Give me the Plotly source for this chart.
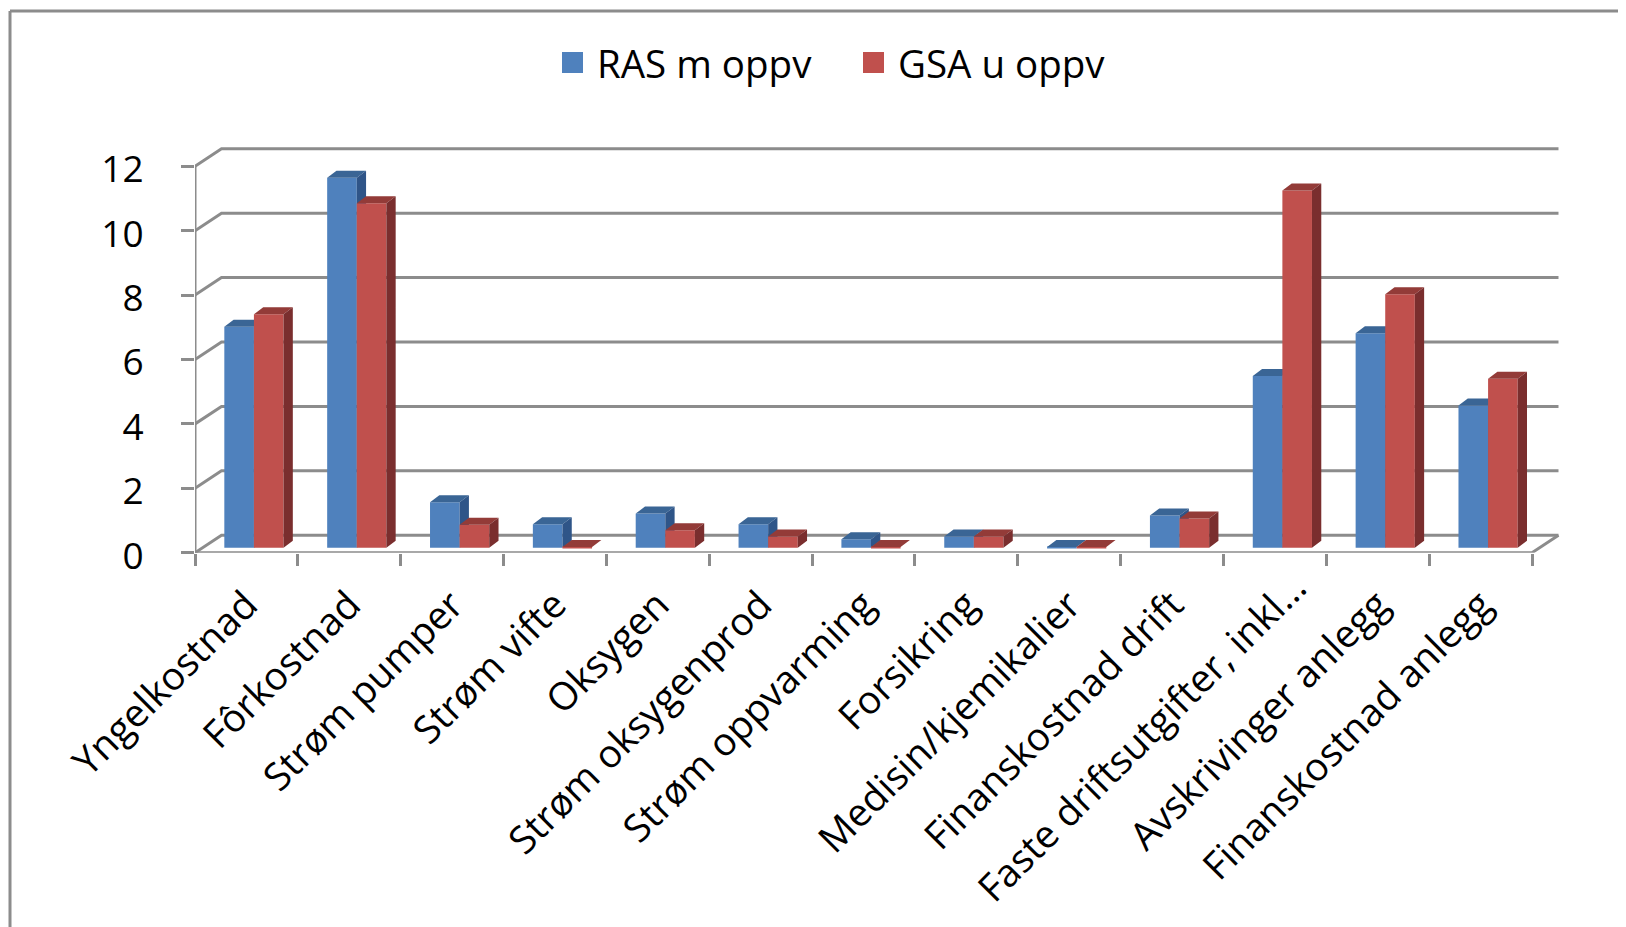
import plotly.graph_objects as go

categories = ["Yngelkostnad", "Fôrkostnad", "Strøm pumper", "Strøm vifte", "Oksygen",
              "Strøm oksygenprod", "Strøm oppvarming", "Forsikring", "Medisin/kjemikalier",
              "Finanskostnad drift", "Faste driftsutgifter, inkl…", "Avskrivinger anlegg",
              "Finanskostnad anlegg"]
ras_values = [6.86, 11.49, 1.41, 0.73, 1.06, 0.73, 0.26, 0.35, 0.02, 1.0, 5.33, 6.66, 4.42]
gsa_values = [7.25, 10.70, 0.71, 0.02, 0.54, 0.35, 0.02, 0.35, 0.02, 0.91, 11.09, 7.87, 5.25]
y_ticks = [0, 2, 4, 6, 8, 10, 12]
series_names = ["RAS m oppv", "GSA u oppv"]

PAGE = 8                                     # browser body margin
W, H = 1626 - PAGE, 927 - PAGE
X0, X1 = 195.0 - PAGE, 1532.0 - PAGE
Y0, UNIT = 552.7 - PAGE, 32.2
CAT = (X1 - X0) / 13
DX, DY = 26.5 / CAT, 17.5 / UNIT            # depth of the floor
BDX, BDY = 9.3 / CAT, 7.0 / UNIT            # depth of a bar
BASE = 5.0 / UNIT
BW = 29.6 / CAT
SHIFT = 7.5 / CAT
GRID = "#8c8c8c"
FONT = "Open Sans"
FS = 38.5
LONG = 10                                    # the long label sits higher than the axis would put it
xmax = 13 + DX + 0.02
ymax = 12 + DY + 0.1
dom_x = [X0 / W, (X0 + xmax * CAT) / W]
dom_y = [1 - Y0 / H, 1 - (Y0 - ymax * UNIT) / H]
tick_pos = [i + 0.5 for i in range(13)]
tick_text = ["" if i == LONG else c for i, c in enumerate(categories)]

fig = go.Figure()

# grid, walls and front axis
gx, gy = [], []
for v in y_ticks:
    gx += [0, DX, 13 + DX, None]
    gy += [v, v + DY, v + DY, None]
gx += [0, 13, 13 + DX, None, 0, 0]
gy += [0, 0, DY, None, 0, 12]
fig.add_trace(go.Scatter(x=gx, y=gy, mode="lines", line=dict(color=GRID, width=3),
                         hoverinfo="skip", showlegend=False, xaxis="x", yaxis="y", cliponaxis=False))


def faces(values, left):
    tx, ty, sx, sy = [], [], [], []
    for i, v in enumerate(values):
        l = i + 0.5 + SHIFT + left
        r = l + BW
        t = BASE + v
        tx += [l, r, r + BDX, l + BDX, l, None]
        ty += [t, t, t + BDY, t + BDY, t, None]
        sx += [r, r + BDX, r + BDX, r, r, None]
        sy += [BASE, BASE + BDY, t + BDY, t, BASE, None]
    return tx, ty, sx, sy


def add_series(name, values, left, front, side, top, ax):
    xs = [i + 0.5 + SHIFT + left + BW / 2 for i in range(13)]
    fig.add_trace(go.Bar(x=xs, y=values, base=BASE, width=BW, name=name,
                         marker=dict(color=front, line=dict(width=0)),
                         showlegend=False, xaxis="x" + ax, yaxis="y" + ax))
    tx, ty, sx, sy = faces(values, left)
    fig.add_trace(go.Scatter(x=tx, y=ty, fill="toself", fillcolor=top, mode="lines",
                             line=dict(width=0), hoverinfo="skip", showlegend=False,
                             xaxis="x" + ax, yaxis="y" + ax))
    fig.add_trace(go.Scatter(x=sx, y=sy, fill="toself", fillcolor=side, mode="lines",
                             line=dict(width=0), hoverinfo="skip", showlegend=False,
                             xaxis="x" + ax, yaxis="y" + ax))
    fig.add_trace(go.Scatter(x=[None], y=[None], mode="markers", name=name,
                             marker=dict(symbol="square", size=16, color=front,
                                         line=dict(color=front, width=5)),
                             xaxis="x" + ax, yaxis="y" + ax))


add_series(series_names[0], ras_values, -BW, "#4f81bd", "#2f5588", "#3a6595", "2")
add_series(series_names[1], gsa_values, 0, "#c0504d", "#7a2e2e", "#933b38", "3")

fig.update_layout(
    width=W, height=H, margin=dict(l=0, r=0, t=0, b=0, autoexpand=False),
    paper_bgcolor="white", plot_bgcolor="white", barmode="overlay",
    font=dict(family=FONT, color="black", size=FS),
    legend=dict(orientation="h", x=540 / W, xanchor="left", y=1 - 55 / H, yanchor="middle",
                font=dict(size=FS), itemwidth=39, entrywidth=247, entrywidthmode="pixels",
                bgcolor="rgba(0,0,0,0)", traceorder="normal"),
    xaxis=dict(domain=dom_x, range=[0, xmax], showgrid=False, zeroline=False, showline=False,
               automargin=False,
               tickmode="array", tickvals=tick_pos, ticktext=tick_text,
               tickangle=-45, ticks="outside", ticklen=13, tickcolor="rgba(0,0,0,0)",
               tickfont=dict(size=FS, family=FONT), anchor="y",
               minor=dict(tickmode="array", tickvals=list(range(14)), ticks="outside",
                          ticklen=12, tickwidth=3, tickcolor=GRID, showgrid=False)),
    yaxis=dict(domain=dom_y, range=[0, ymax], showgrid=False, zeroline=False, showline=False,
               automargin=False, ticklabelstandoff=30, ticklabelshift=3,
               tickmode="array", tickvals=y_ticks, ticks="outside", ticklen=13, tickwidth=3,
               tickcolor=GRID, tickfont=dict(size=37, family=FONT), anchor="x"),
    annotations=[dict(text=categories[LONG], xref="paper", yref="paper",
                      x=1132.5 / W, y=1 - 729 / H, xanchor="center", yanchor="middle",
                      textangle=-45, showarrow=False, font=dict(size=FS, family=FONT, color="black"))],
    shapes=[
        dict(type="line", xref="paper", yref="paper", x0=2 / W, x1=1, y0=1 - 3 / H, y1=1 - 3 / H,
             line=dict(color=GRID, width=3)),
        dict(type="line", xref="paper", yref="paper", x0=2 / W, x1=2 / W, y0=0, y1=1 - 3 / H,
             line=dict(color=GRID, width=3)),
    ],
)
for ax in ("2", "3"):
    fig.update_layout(**{
        "xaxis" + ax: dict(domain=dom_x, range=[0, xmax], overlaying="x", anchor="y" + ax,
                           visible=False, automargin=False),
        "yaxis" + ax: dict(domain=dom_y, range=[0, ymax], overlaying="y", anchor="x" + ax,
                           visible=False, automargin=False),
    })

fig.write_html("out.html")
